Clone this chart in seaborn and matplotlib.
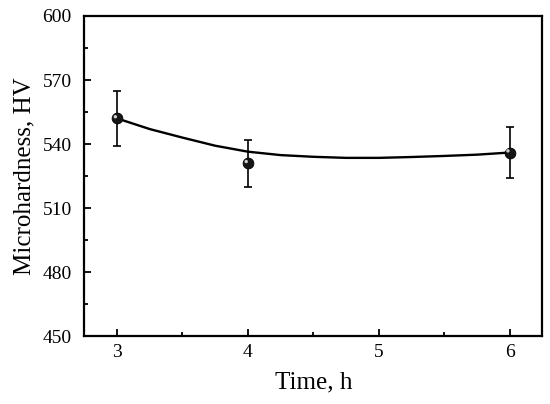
import matplotlib
matplotlib.use("Agg")
import matplotlib.pyplot as plt
import matplotlib.transforms as mtransforms
from matplotlib.ticker import MultipleLocator
import pandas as pd
import seaborn as sns

# measured points
time_h = [3, 4, 6]
hardness = [552, 531, 536]
hardness_err = [13, 11, 12]

# smooth connecting curve
curve_x = [3.0, 3.25, 3.5, 3.75, 4.0, 4.25, 4.5, 4.75, 5.0, 5.25, 5.5, 5.75, 6.0]
curve_y = [552, 547.0, 543.0, 539.2, 536.4, 534.8, 534.0, 533.5, 533.5, 533.9, 534.4, 535.0, 536]

sns.set_style("ticks")
plt.rcParams['font.family'] = ['Liberation Serif', 'DejaVu Serif']
plt.rcParams['text.color'] = 'black'
plt.rcParams['axes.labelcolor'] = 'black'
plt.rcParams['xtick.color'] = 'black'
plt.rcParams['ytick.color'] = 'black'

pts = pd.DataFrame({'t': time_h, 'hv': hardness})
fit = pd.DataFrame({'t': curve_x, 'hv': curve_y})

fig = plt.figure(figsize=(5.5, 4.04), dpi=100)
ax = fig.add_axes([0.1533, 0.1683, 0.8327, 0.7921])

sns.lineplot(data=fit, x='t', y='hv', ax=ax, color='black', linewidth=1.7,
             sort=False, zorder=2)
ax.errorbar(time_h, hardness, yerr=hardness_err, fmt='none', ecolor='black',
            elinewidth=1.2, capsize=2.8, capthick=1.2, zorder=3)
sns.scatterplot(data=pts, x='t', y='hv', ax=ax, color='#151515', s=60,
                edgecolor='black', linewidth=0.6, zorder=4)
# little highlight on each ball
shift = mtransforms.ScaledTranslation(-1.2 / 72, 1.2 / 72, fig.dpi_scale_trans)
ax.scatter(time_h, hardness, s=6, color='#d0d0d0', edgecolor='none',
           transform=ax.transData + shift, zorder=5)

ax.set_xlim(2.75, 6.25)
ax.set_ylim(450, 600)
ax.xaxis.set_major_locator(MultipleLocator(1))
ax.xaxis.set_minor_locator(MultipleLocator(0.5))
ax.yaxis.set_major_locator(MultipleLocator(30))
ax.yaxis.set_minor_locator(MultipleLocator(15))
ax.tick_params(which='major', direction='in', length=5, width=1.3, labelsize=14)
ax.tick_params(which='minor', direction='in', length=3, width=1.3)
ax.tick_params(axis='x', which='major', pad=6)
ax.tick_params(axis='y', which='major', pad=9)

for sp in ax.spines.values():
    sp.set_linewidth(1.6)
    sp.set_color('black')

ax.set_xlabel('Time, h', fontsize=18, labelpad=7)
ax.set_ylabel('Microhardness, HV', fontsize=18, labelpad=5)

fig.savefig('out.png', dpi=100)
